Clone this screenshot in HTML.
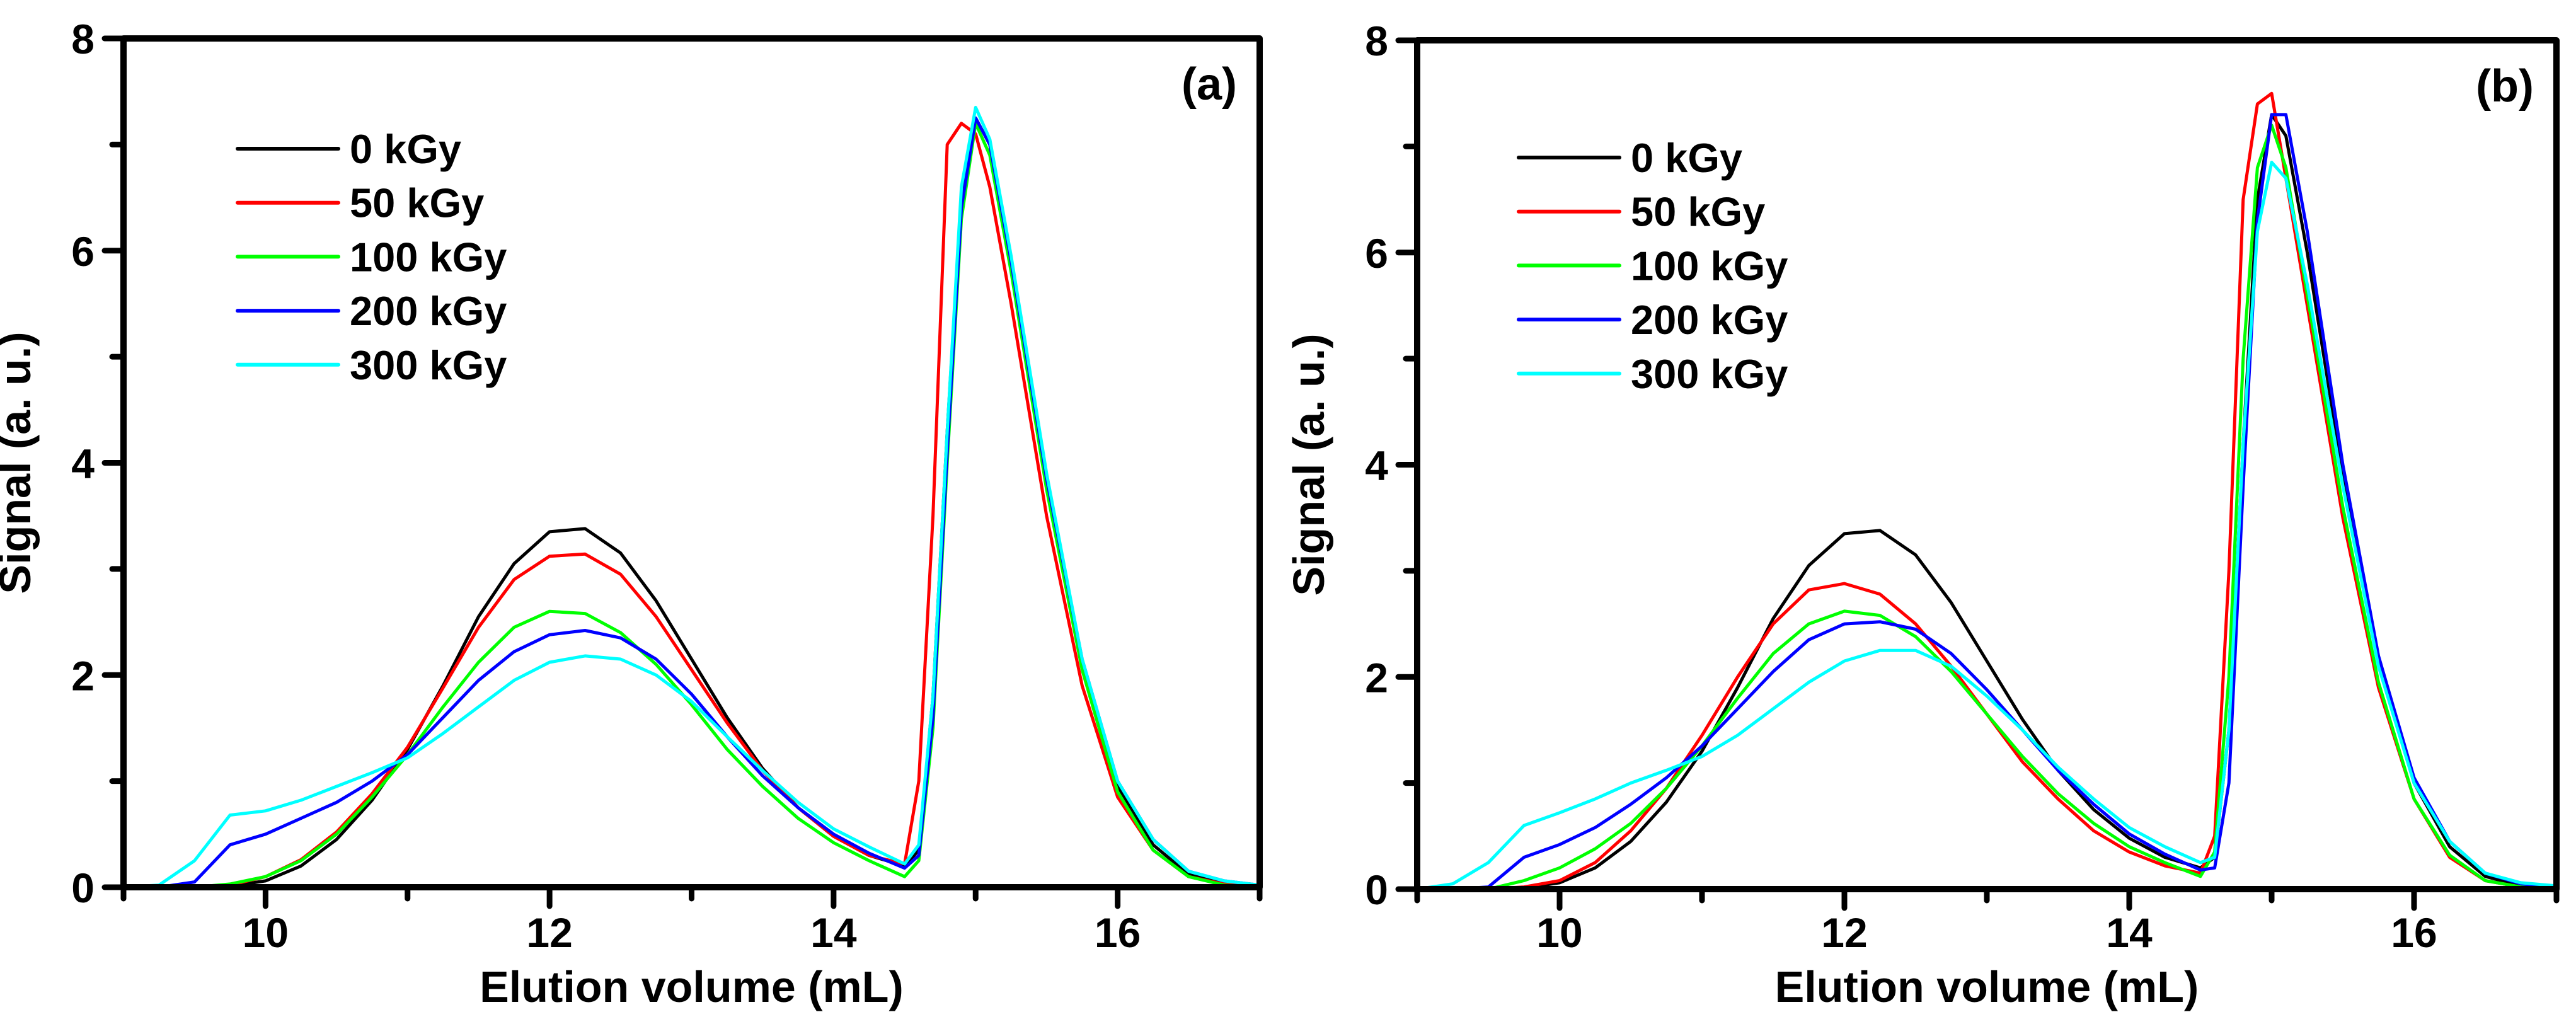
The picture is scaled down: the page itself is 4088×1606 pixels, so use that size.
<!DOCTYPE html>
<html><head><meta charset="utf-8"><style>
html,body{margin:0;padding:0;background:#fff;}
svg{display:block;font-family:"Liberation Sans",Arial,sans-serif;font-weight:bold;}
</style></head><body>
<svg id="fig" width="4088" height="1606" viewBox="0 0 4088 1606" xmlns="http://www.w3.org/2000/svg"></svg>
<script>
const xVals=[9,9.25,9.5,9.75,10,10.25,10.5,10.75,11,11.25,11.5,11.75,12,12.25,12.5,12.75,13,13.25,13.5,13.75,14,14.25,14.5,14.6,14.7,14.8,14.9,15,15.1,15.25,15.5,15.75,16,16.25,16.5,16.75,17];
const seriesLabels=["0 kGy","50 kGy","100 kGy","200 kGy","300 kGy"];
const xTickLabels=[10,12,14,16];
const yTickLabels=[0,2,4,6,8];
const a0=[0,0,0,0.01,0.06,0.2,0.45,0.82,1.3,1.9,2.55,3.05,3.35,3.38,3.15,2.7,2.15,1.6,1.12,0.75,0.48,0.3,0.2,0.35,1.8,4.3,6.5,7.25,7.0,5.9,3.8,2.1,0.95,0.4,0.12,0.03,0];
const a50=[0,0,0,0.02,0.1,0.26,0.52,0.88,1.32,1.88,2.45,2.9,3.12,3.14,2.95,2.55,2.05,1.55,1.1,0.75,0.48,0.3,0.22,1.0,3.5,7.0,7.2,7.1,6.6,5.5,3.5,1.9,0.85,0.35,0.1,0.03,0];
const a100=[0,0,0,0.03,0.1,0.25,0.5,0.85,1.25,1.7,2.12,2.45,2.6,2.58,2.4,2.1,1.72,1.3,0.95,0.65,0.42,0.25,0.1,0.25,1.5,4.0,6.3,7.2,6.9,5.8,3.75,2.05,0.9,0.35,0.1,0.02,0];
const a200=[0,0,0.05,0.4,0.5,0.65,0.8,1.0,1.25,1.6,1.95,2.22,2.38,2.42,2.35,2.15,1.82,1.42,1.05,0.75,0.5,0.32,0.18,0.3,1.6,4.1,6.4,7.25,7.0,5.9,3.85,2.15,1.0,0.45,0.15,0.06,0.02];
const a300=[0,0.02,0.25,0.68,0.72,0.82,0.95,1.08,1.22,1.45,1.7,1.95,2.12,2.18,2.15,2.0,1.75,1.42,1.1,0.8,0.55,0.38,0.22,0.4,1.8,4.3,6.6,7.35,7.05,5.95,3.9,2.15,1.0,0.45,0.15,0.06,0.02];
const b0=[0,0,0,0.01,0.06,0.2,0.45,0.82,1.3,1.9,2.55,3.05,3.35,3.38,3.15,2.7,2.15,1.6,1.12,0.75,0.48,0.3,0.2,0.3,1.5,4.2,6.5,7.3,7.1,6.0,3.9,2.15,1.0,0.4,0.12,0.03,0];
const b50=[0,0,0,0.02,0.08,0.25,0.55,0.95,1.45,2.0,2.5,2.82,2.88,2.78,2.5,2.1,1.65,1.2,0.85,0.55,0.35,0.22,0.15,0.5,3.0,6.5,7.4,7.5,6.7,5.5,3.5,1.9,0.85,0.3,0.08,0.02,0];
const b100=[0,0,0,0.08,0.2,0.38,0.62,0.95,1.35,1.8,2.22,2.5,2.62,2.58,2.38,2.05,1.65,1.25,0.9,0.62,0.4,0.25,0.12,0.35,2.0,5.0,6.8,7.2,6.8,5.6,3.6,1.95,0.85,0.32,0.08,0.02,0];
const b200=[0,0,0.02,0.3,0.42,0.58,0.8,1.05,1.35,1.7,2.05,2.35,2.5,2.52,2.45,2.22,1.88,1.5,1.12,0.8,0.52,0.33,0.18,0.2,1.0,3.8,6.3,7.3,7.3,6.2,4.0,2.2,1.05,0.45,0.15,0.05,0.02];
const b300=[0,0.05,0.25,0.6,0.72,0.85,1.0,1.12,1.25,1.45,1.7,1.95,2.15,2.25,2.25,2.1,1.82,1.5,1.15,0.85,0.58,0.4,0.25,0.3,1.5,4.2,6.2,6.85,6.7,5.7,3.8,2.1,1.0,0.45,0.15,0.06,0.03];

const colors=["#000000","#ff0000","#00ff00","#0000ff","#00ffff"];
const svg=document.getElementById('fig');
const NS="http://www.w3.org/2000/svg";
function mk(tag,attrs,parent){const e=document.createElementNS(NS,tag);for(const k in attrs)e.setAttribute(k,attrs[k]);(parent||svg).appendChild(e);return e;}

function panel(id,L,R,T,B,series,tag,legX,legY){
  const g=mk('g',{});
  
  
  const sx=v=>L+(v-9)/(17-9)*(R-L);
  const sy=v=>B-(v-0)/(8-0)*(B-T);
  // series
  series.forEach((s,i)=>{
    const d=xVals.map((x,j)=>(j?'L':'M')+sx(x).toFixed(1)+','+sy(s[j]).toFixed(1)).join(' ');
    const p=mk('path',{d:d,fill:'none',stroke:colors[i],'stroke-width':5,'stroke-linejoin':'round'},g);
    
    
  });
  // frame
  const fr=mk('rect',{x:L,y:T,width:R-L,height:B-T,fill:'none',stroke:'#000','stroke-width':10,'stroke-linejoin':'round'},g);
  
  
  // x ticks
  for(let v=9;v<=17;v++){
    const major=(v%2===0);
    const t=mk('line',{x1:sx(v),x2:sx(v),y1:B,y2:B+(major?30:18),stroke:'#000','stroke-width':9,'stroke-linecap':'round'},g);
    
    
  }
  xTickLabels.forEach(v=>{
    const t=mk('text',{x:sx(v),y:1503,'font-size':66,'text-anchor':'middle'},g);
    t.textContent=v;
    
    
  });
  for(let v=0;v<=8;v++){
    const major=(v%2===0);
    const t=mk('line',{x1:L,x2:L-(major?30:18),y1:sy(v),y2:sy(v),stroke:'#000','stroke-width':9,'stroke-linecap':'round'},g);
    
    
  }
  yTickLabels.forEach(v=>{
    const t=mk('text',{x:L-46,y:sy(v)+24,'font-size':66,'text-anchor':'end'},g);
    t.textContent=v;
    
    
  });
  const xt=mk('text',{x:(L+R)/2,y:1590,'font-size':70,'text-anchor':'middle'},g);
  xt.textContent='Elution volume (mL)';
  
  
  const cy=(T+B)/2, cx=L-148;
  const yt=mk('text',{x:cx,y:cy,'font-size':70,'text-anchor':'middle',transform:'rotate(-90 '+cx+' '+cy+')'},g);
  yt.textContent='Signal (a. u.)';
  
  
  const pl=mk('text',{x:R-36,y:T+97,'font-size':72,'text-anchor':'end'},g);
  pl.textContent=tag;
  
  
  seriesLabels.forEach((lab,i)=>{
    const y=legY+i*85.7;
    const ln=mk('line',{x1:legX,x2:legX+160,y1:y,y2:y,stroke:colors[i],'stroke-width':6,'stroke-linecap':'round'},g);
    
    
    const tx=mk('text',{x:legX+178,y:y+23,'font-size':65},g);
    tx.textContent=lab;
    
    
  });
}
panel('a',196,1999,61,1408,[a0,a50,a100,a200,a300],'(a)',377,236);
panel('b',2249,4057,64,1411,[b0,b50,b100,b200,b300],'(b)',2410,250);
</script>
</body></html>
